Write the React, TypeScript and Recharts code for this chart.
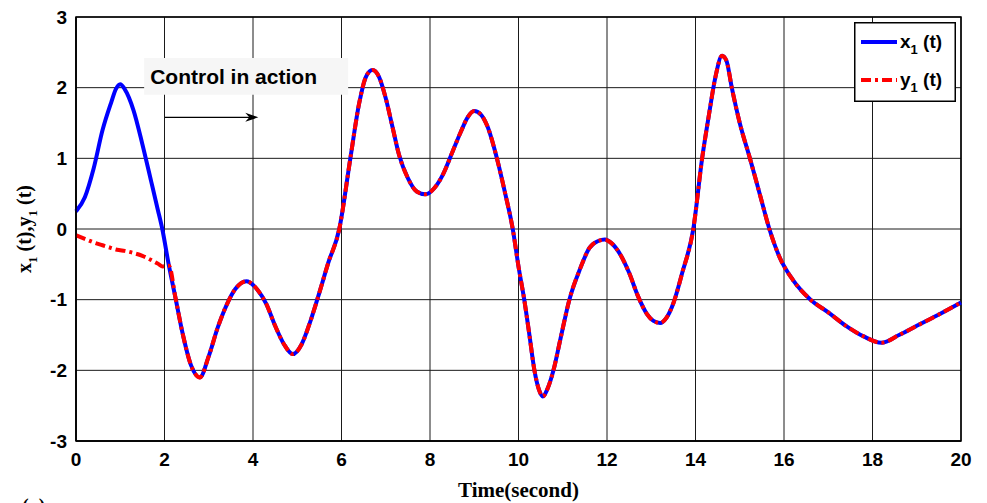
import {
  CartesianGrid,
  Legend,
  Line,
  LineChart,
  ReferenceArea,
  ReferenceLine,
  XAxis,
  YAxis,
} from "recharts";

const SANS = "'Liberation Sans', Arial, Helvetica, sans-serif";
const SERIF = "'Liberation Serif', 'Times New Roman', serif";

// time samples (seconds)
const times = [
  0, 0.2, 0.4, 0.6, 0.8, 0.9, 1.0, 1.1, 1.3, 1.5,
  1.7, 1.85, 1.95, 2.1, 2.25, 2.4, 2.6, 2.8, 3.0, 3.2,
  3.4, 3.6, 3.85, 4.1, 4.3, 4.5, 4.7, 4.9, 5.1, 5.3,
  5.5, 5.7, 5.95, 6.2, 6.4, 6.55, 6.7, 6.85, 7.0, 7.15,
  7.3, 7.5, 7.7, 7.9, 8.1, 8.3, 8.5, 8.7, 8.85, 9.0,
  9.15, 9.3, 9.5, 9.7, 9.87, 10.0, 10.13, 10.24, 10.36, 10.46,
  10.55, 10.65, 10.79, 10.95, 11.15, 11.4, 11.6, 11.8, 11.95, 12.1,
  12.3, 12.5, 12.7, 12.9, 13.05, 13.2, 13.35, 13.5, 13.7, 13.95,
  14.15, 14.3, 14.45, 14.6, 14.7, 14.82, 15.0, 15.23, 15.45, 15.67,
  15.9, 16.2, 16.6, 17.0, 17.4, 17.8, 18.2, 18.6, 19.0, 19.5,
  20,
];

// x1(t): free until ~t=2, then synchronised with y1
const x1Values = [
  0.25, 0.45, 0.86, 1.4, 1.8, 1.98, 2.05, 1.98, 1.68, 1.2,
  0.67, 0.27, 0.0, -0.52, -0.98, -1.45, -1.93, -2.1, -1.8, -1.4,
  -1.08, -0.85, -0.74, -0.86, -1.06, -1.37, -1.63, -1.77, -1.63, -1.3,
  -0.9, -0.48, 0.0, 1.0, 1.78, 2.15, 2.25, 2.15, 1.85, 1.45,
  1.05, 0.72, 0.53, 0.49, 0.58, 0.78, 1.08, 1.38, 1.58, 1.67,
  1.62, 1.45, 1.03, 0.5, 0.0, -0.53, -1.0, -1.47, -2.0, -2.27,
  -2.37, -2.27, -2.0, -1.55, -1.0, -0.55, -0.27, -0.17, -0.15, -0.2,
  -0.36, -0.62, -0.95, -1.2, -1.3, -1.33, -1.25, -1.05, -0.62, 0.0,
  1.0, 1.6, 2.15, 2.45, 2.38, 2.0, 1.5, 1.0, 0.5, 0.0,
  -0.4, -0.72, -1.0, -1.18, -1.37, -1.52, -1.61, -1.5, -1.37, -1.21,
  -1.04,
];

// y1(t)
const y1Values = [
  -0.09, -0.14, -0.19, -0.23, -0.27, -0.29, -0.3, -0.31, -0.34, -0.38,
  -0.44, -0.49, -0.53, -0.52, -0.98, -1.45, -1.93, -2.1, -1.8, -1.4,
  -1.08, -0.85, -0.74, -0.86, -1.06, -1.37, -1.63, -1.77, -1.63, -1.3,
  -0.9, -0.48, 0.0, 1.0, 1.78, 2.15, 2.25, 2.15, 1.85, 1.45,
  1.05, 0.72, 0.53, 0.49, 0.58, 0.78, 1.08, 1.38, 1.58, 1.67,
  1.62, 1.45, 1.03, 0.5, 0.0, -0.53, -1.0, -1.47, -2.0, -2.27,
  -2.37, -2.27, -2.0, -1.55, -1.0, -0.55, -0.27, -0.17, -0.15, -0.2,
  -0.36, -0.62, -0.95, -1.2, -1.3, -1.33, -1.25, -1.05, -0.62, 0.0,
  1.0, 1.6, 2.15, 2.45, 2.38, 2.0, 1.5, 1.0, 0.5, 0.0,
  -0.4, -0.72, -1.0, -1.18, -1.37, -1.52, -1.61, -1.5, -1.37, -1.21,
  -1.04,
];

const xTicks = [0, 2, 4, 6, 8, 10, 12, 14, 16, 18, 20];
const yTicks = [-3, -2, -1, 0, 1, 2, 3];

const rows = times.map((t, i) => ({ t, x1: x1Values[i], y1: y1Values[i] }));

const tickStyle = { fill: "#000", fontSize: 19, fontWeight: "bold", fontFamily: SANS };

function YTitle({ viewBox }: any) {
  const cx = viewBox.x + 31;
  const cy = viewBox.y + viewBox.height / 2;
  return (
    <text
      x={cx}
      y={cy}
      transform={`rotate(-90 ${cx} ${cy})`}
      textAnchor="middle"
      fontFamily={SERIF}
      fontWeight="bold"
      fontSize={20}
      fill="#000"
    >
      <tspan>x</tspan>
      <tspan dy={6} fontSize={13}>1</tspan>
      <tspan dy={-6}> (t),y</tspan>
      <tspan dy={6} fontSize={13}>1</tspan>
      <tspan dy={-6}> (t)</tspan>
    </text>
  );
}

function Arrow(props: any) {
  const { x1, y1, x2, y2 } = props;
  return (
    <g>
      <line x1={x1} y1={y1} x2={x2 - 8} y2={y2} stroke="#000" strokeWidth={1.3} />
      <path d={`M${x2},${y2} L${x2 - 13},${y2 - 4.5} L${x2 - 9},${y2} L${x2 - 13},${y2 + 4.5} Z`} fill="#000" />
    </g>
  );
}

function LegendBox({ payload }: any) {
  const items = (payload || []).filter((p: any) => p.type !== "none");
  return (
    <svg width={102} height={80} style={{ display: "block" }}>
      <rect x={0.75} y={0.75} width={100.5} height={78.5} fill="#fff" stroke="#000" strokeWidth={1.5} />
      {items.map((p: any, i: number) => {
        const cy = 20 + i * 38;
        const name = String(p.value);
        return (
          <g key={name}>
            <line
              x1={7}
              x2={43}
              y1={cy}
              y2={cy}
              stroke={p.color}
              strokeWidth={4}
              strokeDasharray={p.payload?.strokeDasharray}
            />
            <text x={46} y={cy + 6} fontFamily={SANS} fontWeight="bold" fontSize={19} fill="#000">
              <tspan>{name[0]}</tspan>
              <tspan dy={6} fontSize={13}>{name[1]}</tspan>
              <tspan dy={-6}>{name.slice(2)}</tspan>
            </text>
          </g>
        );
      })}
    </svg>
  );
}

export default function App() {
  return (
    <div style={{ position: "absolute", left: 0, top: 0, width: 987, height: 503, overflow: "hidden", background: "#fff" }}>
      <LineChart width={987} height={503} data={rows} margin={{ top: 17, right: 26, left: 0, bottom: 0 }}>
        <CartesianGrid stroke="#1a1a1a" strokeWidth={1} />
        <XAxis
          dataKey="t"
          type="number"
          domain={[0, 20]}
          ticks={xTicks}
          interval={0}
          height={62}
          tickSize={0}
          tickMargin={12}
          axisLine={{ stroke: "#000", strokeWidth: 1.5 }}
          tick={tickStyle}
          label={{
            value: "Time(second)",
            position: "insideBottom",
            offset: 6,
            fill: "#000",
            fontSize: 21,
            fontWeight: "bold",
            fontFamily: SERIF,
          }}
        />
        <YAxis
          type="number"
          domain={[-3, 3]}
          ticks={yTicks}
          interval={0}
          width={76}
          tickSize={0}
          tickMargin={9}
          axisLine={{ stroke: "#000", strokeWidth: 1.5 }}
          tick={tickStyle}
          label={<YTitle />}
        />
        <ReferenceArea x1={0} x2={20} y1={-3} y2={3} fill="none" stroke="#000" strokeWidth={1.5} />
        <ReferenceArea
          x1={1.54}
          x2={6.15}
          y1={1.9}
          y2={2.42}
          fill="#f6f6f6"
          fillOpacity={1}
          stroke="none"
          label={{
            value: "Control in action",
            position: "insideLeft",
            offset: 6,
            fill: "#000",
            fontSize: 21,
            fontWeight: "bold",
            fontFamily: SANS,
          }}
        />
        <ReferenceLine
          segment={[
            { x: 2.01, y: 1.58 },
            { x: 4.12, y: 1.58 },
          ]}
          shape={Arrow}
        />
        <Line
          type="monotone"
          dataKey="x1"
          name="x1 (t)"
          stroke="#0000ff"
          strokeWidth={4}
          dot={false}
          isAnimationActive={false}
        />
        <Line
          type="monotone"
          dataKey="y1"
          name="y1 (t)"
          stroke="#ff0000"
          strokeWidth={4}
          strokeDasharray="10 4 3 4"
          dot={false}
          isAnimationActive={false}
        />
        <Legend
          layout="horizontal"
          verticalAlign="middle"
          align="center"
          content={<LegendBox />}
          wrapperStyle={{ left: 854, top: 22, width: 102, height: 80 }}
        />
      </LineChart>
      <div
        style={{
          position: "absolute",
          left: 22,
          top: 496,
          fontFamily: SERIF,
          fontWeight: "bold",
          fontSize: 20,
          lineHeight: "20px",
        }}
      >
        (a)
      </div>
    </div>
  );
}
